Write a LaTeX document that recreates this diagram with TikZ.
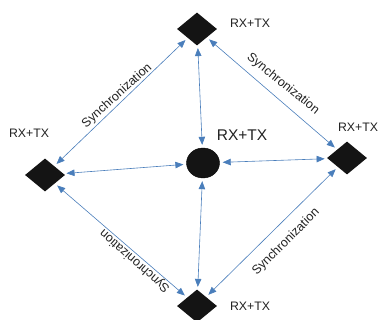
\documentclass[tikz,border=0pt]{standalone}
\usepackage{fontspec}
\setmainfont{Liberation Sans}
\usetikzlibrary{shapes.geometric,arrows.meta}
\definecolor{arrowblue}{HTML}{4A7EBB}
\definecolor{txt}{HTML}{222222}
\begin{document}
\begin{tikzpicture}[x=1pt,y=-1pt,
  dev/.style={diamond, fill=black!92, minimum width=40pt, minimum height=33pt, inner sep=0pt},
  hub/.style={ellipse, fill=black!92, draw=black, minimum width=33pt, minimum height=30pt, inner sep=0pt},
  link/.style={draw=arrowblue, line width=0.6pt, {Triangle[length=8pt,width=6.5pt]}-{Triangle[length=8pt,width=6.5pt]}, shorten >=3pt, shorten <=3pt},
  lbl/.style={font=\fontsize{12.3}{14}\selectfont, text=txt, inner sep=0pt},
  biglbl/.style={font=\fontsize{15.5}{18}\selectfont, text=txt, inner sep=0pt},
  sync/.style={font=\fontsize{12.5}{14}\selectfont, text=txt, inner sep=0pt}]
\useasboundingbox (0,0) rectangle (379,320);
\node[dev] (top) at (197,29) {};
\node[dev] (left) at (45,175) {};
\node[dev] (right) at (347,158) {};
\node[dev] (bot) at (197,306) {};
\node[hub] (hub) at (203,163) {};
\node[lbl] (ltop) at (250,23) {RX+TX};
\node[lbl] (lleft) at (29,133) {RX+TX};
\node[lbl] (lright) at (358,127) {RX+TX};
\node[lbl] (lbot) at (250,306) {RX+TX};
\node[biglbl] (lhub) at (242,135) {RX+TX};
\draw[link] (top) -- (hub);
\draw[link] (hub) -- (bot);
\draw[link] (left) -- (hub);
\draw[link] (hub) -- (right);
\draw[link] (top) -- (left);
\draw[link] (top) -- (right);
\draw[link] (left) -- (bot);
\draw[link] (right) -- (bot);
\node[sync, rotate=42] (s1) at (117,96) {Synchronization};
\node[sync, rotate=-39] (s2) at (283,84) {Synchronization};
\node[sync, rotate=138.6] (s3) at (135,261) {Synchronization};
\node[sync, rotate=45] (s4) at (286,242) {Synchronization};
\end{tikzpicture}
\end{document}
